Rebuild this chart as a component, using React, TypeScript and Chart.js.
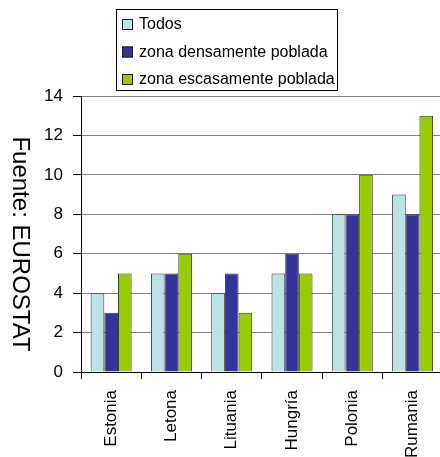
import React, { useEffect, useRef } from 'react';
import { Chart, registerables } from 'chart.js';

Chart.register(...registerables);

const categories = ['Estonia', 'Letona', 'Lituania', 'Hungría', 'Polonia', 'Rumania'];
const seriesNames = ['Todos', 'zona densamente poblada', 'zona escasamente poblada'];
const todos = [4, 5, 4, 5, 8, 9];
const densa = [3, 5, 5, 6, 8, 8];
const escasa = [5, 6, 3, 5, 10, 13];
const yMin = 0;
const yMax = 14;
const yStep = 2;
const axisTitle = 'Fuente: EUROSTAT';
const seriesColors = ['#BDE2E6', '#333399', '#99CC00'];

const FONT = '"Liberation Sans", Arial, sans-serif';

const boxLegend = {
  id: 'boxLegend',
  afterDraw(chart: any) {
    const ctx = chart.ctx;
    ctx.save();
    ctx.strokeStyle = '#000';
    ctx.lineWidth = 1;
    ctx.strokeRect(116.5, 9.5, 221, 81);
    ctx.font = `16px ${FONT}`;
    ctx.textBaseline = 'middle';
    ctx.textAlign = 'left';
    chart.data.datasets.forEach((ds: any, i: number) => {
      const cy = 24 + i * 27.5;
      ctx.fillStyle = ds.backgroundColor;
      ctx.fillRect(122, cy - 5, 11, 11);
      ctx.strokeStyle = '#222';
      ctx.strokeRect(122.5, cy - 4.5, 10, 10);
      ctx.fillStyle = '#000';
      ctx.fillText(ds.label, 139, cy + 1);
    });
    ctx.restore();
  },
};

const sideTitle = {
  id: 'sideTitle',
  afterDraw(chart: any) {
    const ctx = chart.ctx;
    ctx.save();
    ctx.translate(20, 244);
    ctx.rotate(Math.PI / 2);
    ctx.font = `24px ${FONT}`;
    ctx.fillStyle = '#000';
    ctx.textAlign = 'center';
    ctx.textBaseline = 'middle';
    ctx.fillText(axisTitle, 0, 0);
    ctx.restore();
  },
};

export default function App() {
  const ref = useRef<HTMLCanvasElement>(null);

  useEffect(() => {
    if (!ref.current) return;
    const values = [todos, densa, escasa];
    const chart = new Chart(ref.current, {
      type: 'bar',
      data: {
        labels: categories,
        datasets: seriesNames.map((name, i) => ({
          label: name,
          data: values[i],
          backgroundColor: seriesColors[i],
          borderColor: '#3a3a3a',
          borderWidth: 1,
          categoryPercentage: 0.68,
          barPercentage: 1.0,
        })),
      },
      options: {
        responsive: false,
        animation: false,
        devicePixelRatio: 1,
        layout: { padding: { top: 96, left: 0, right: 0, bottom: 0 } },
        plugins: {
          legend: { display: false },
          tooltip: { enabled: false },
        },
        scales: {
          x: {
            offset: true,
            grid: {
              display: true,
              drawOnChartArea: false,
              tickLength: 7,
              color: '#000',
              offset: true,
            },
            border: { display: true, color: '#000' },
            ticks: {
              minRotation: 90,
              maxRotation: 90,
              padding: 11,
              color: '#000',
              font: { family: FONT, size: 17 },
            },
            afterFit: (s: any) => {
              s.height = 85;
            },
          },
          y: {
            min: yMin,
            max: yMax,
            grid: {
              color: '#808080',
              tickColor: '#000',
              tickLength: 8,
            },
            border: { display: true, color: '#000' },
            ticks: {
              stepSize: yStep,
              padding: 10,
              color: '#000',
              font: { family: FONT, size: 17 },
            },
            afterFit: (s: any) => {
              s.width = 81;
            },
          },
        },
      },
      plugins: [boxLegend, sideTitle],
    });
    return () => chart.destroy();
  }, []);

  return (
    <div
      style={{
        position: 'fixed',
        left: 0,
        top: 0,
        width: 440,
        height: 457,
        overflow: 'hidden',
        background: '#fff',
      }}
    >
      <canvas ref={ref} width={444} height={457} style={{ display: 'block' }} />
    </div>
  );
}
